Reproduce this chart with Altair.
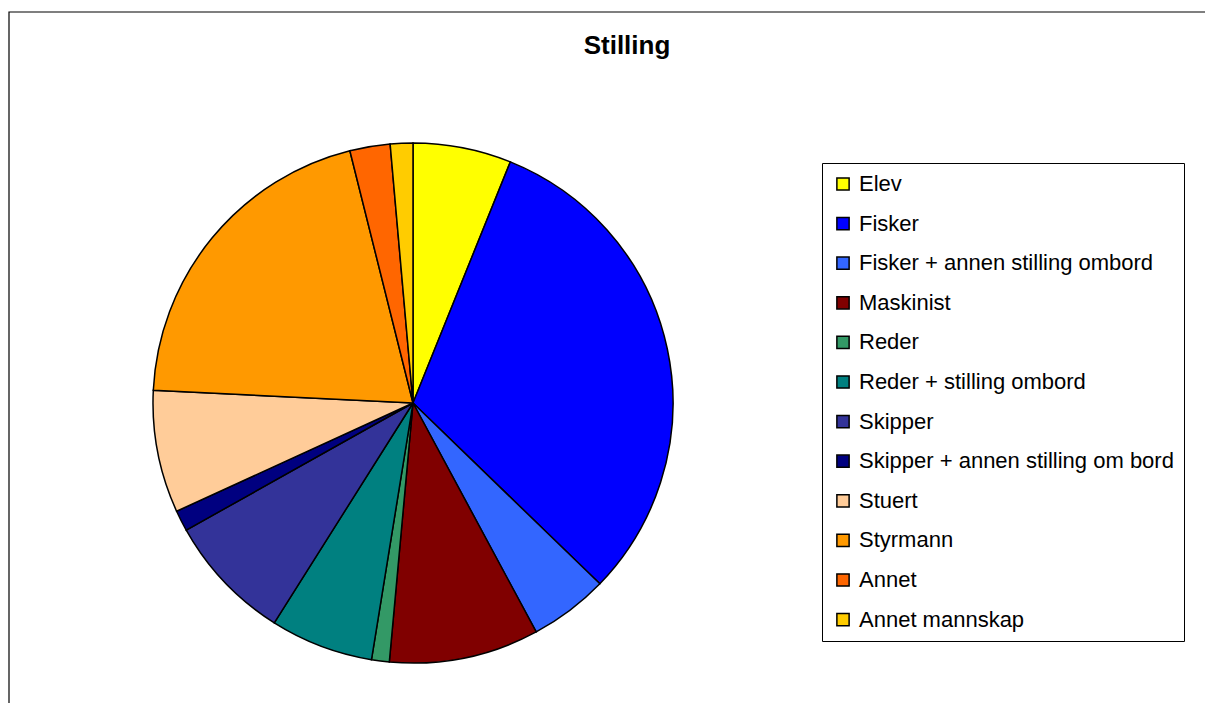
import altair as alt
import pandas as pd

categories = [
    "Elev", "Fisker", "Fisker + annen stilling ombord", "Maskinist", "Reder",
    "Reder + stilling ombord", "Skipper", "Skipper + annen stilling om bord",
    "Stuert", "Styrmann", "Annet", "Annet mannskap",
]
values = [6.1, 31.1, 4.9, 9.3, 1.1, 6.4, 7.9, 1.3, 7.6, 20.3, 2.5, 1.4]
colors = [
    "#FFFF00", "#0000FF", "#3366FF", "#800000", "#339966", "#008080",
    "#333399", "#000080", "#FFCC99", "#FF9900", "#FF6600", "#FFCC00",
]
title_text = ["Stilling"]

df = pd.DataFrame({"Stilling": categories, "Andel": values, "idx": list(range(len(categories)))})

W, H = 1197, 695

frame = alt.Chart(pd.DataFrame({"a": [0]})).mark_rect(
    fill="white", stroke="black", strokeWidth=1.2
).encode(
    x=alt.value(1), x2=alt.value(1400), y=alt.value(4), y2=alt.value(900)
)

pie = alt.Chart(df).mark_arc(
    radius=260, stroke="black", strokeWidth=1.5
).encode(
    theta=alt.Theta("Andel:Q", stack=True),
    order=alt.Order("idx:Q", sort="ascending"),
    color=alt.Color(
        "Stilling:N",
        scale=alt.Scale(domain=categories, range=colors),
        sort=categories,
        legend=alt.Legend(
            orient="none", legendX=814, legendY=155, title=None,
            symbolType="square", symbolSize=150,
            symbolStrokeColor="black", symbolStrokeWidth=1.5,
            labelFont="Liberation Sans", labelFontSize=22, labelColor="black",
            labelOffset=5, labelLimit=600, rowPadding=17.6, padding=10,
            fillColor="white", strokeColor="black",
        ),
    ),
    x=alt.value(405),
    y=alt.value(395),
)

title = alt.Chart(pd.DataFrame({"t": title_text})).mark_text(
    font="Liberation Sans", fontSize=26, fontWeight="bold", color="black",
    align="center", baseline="alphabetic",
).encode(text="t:N", x=alt.value(619), y=alt.value(46))

chart = alt.layer(frame, pie, title).properties(
    width=W, height=H, padding=0, autosize=alt.AutoSizeParams(type="none")
).configure_view(stroke=None)

chart.save("out.html", embed_options={"renderer": "svg", "actions": False})
